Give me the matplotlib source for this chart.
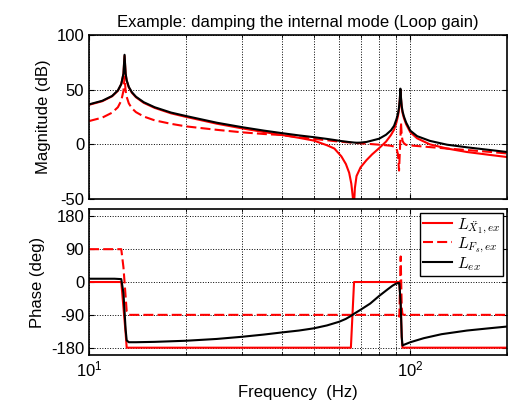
import matplotlib
matplotlib.use("Agg")
import matplotlib.pyplot as plt
import numpy as np

plt.rcParams['font.family'] = ['Liberation Sans', 'DejaVu Sans']
plt.rcParams['mathtext.fontset'] = 'cm'
plt.rcParams['axes.unicode_minus'] = False

# magnitude curves (Hz, dB)
f_mag = [10, 11, 11.8, 12.3, 12.6, 12.8, 12.9, 13.0, 13.1, 13.3, 13.6, 14.0, 14.8, 16, 18, 20,
         25, 30, 35, 40, 45, 50, 55, 58, 61, 63, 64.5, 65.5, 66.2, 66.6, 67.2, 68, 70, 73,
         76, 80, 84, 87, 89, 90.5, 91.5, 92.2, 92.7, 93.1, 93.5, 94, 94.6, 95.5, 97, 100,
         105, 115, 130, 150, 175, 200]
mag_x1 = [36.2, 39.5, 44, 49, 55, 64.5, 81, 64.3, 58.2, 52.1, 47.2, 43.1, 38, 33.4, 28.4, 25.2,
          18.9, 14.6, 11.3, 8.5, 6, 3.5, -0.8, -3.8, -11, -18, -26, -36, -48, -62, -40, -29, -21, -14.5,
          -9.2, -3.4, 2.5, 8.5, 13.5, 20, 26, 32, 40, 50, 42, 33.5, 28.5, 24, 18.5, 11,
          5.5, 0, -3.8, -7, -9.5, -11.6]
mag_fs = [21.3, 24.5, 29, 34, 40, 49, 62, 49, 43.5, 37.5, 33, 29.5, 25.5, 22, 18.8, 16.5,
          13.3, 11, 9.5, 8.5, 6.5, 5, 3.8, 3, 2.4, 2, 1.8, 1.6, 1.5, 1.4, 1.3, 1.2, 1.0, 0.6,
          0.2, -0.3, -0.8, -1.3, -2, -3.5, -9, -24, -8, 5, 20, 8, 3, 1, -0.5, -1,
          -1.5, -2.5, -3.8, -5.2, -6.8, -8.3]
mag_ex = [36.6, 39.9, 44.3, 49.4, 55.3, 64.8, 82, 64.8, 58.7, 52.6, 47.7, 43.6, 38.6, 34, 29.1, 26,
          19.8, 15.7, 12.6, 10.2, 8.2, 6.6, 5.0, 4.0, 3.0, 2.5, 2.1, 1.9, 1.8, 1.7, 1.6, 1.5, 1.6, 2.2,
          3.5, 5.2, 8.8, 12.8, 17, 23, 28, 34, 41, 51, 43, 35, 30, 25.5, 20, 12.5,
          7.5, 3.2, -0.3, -2.7, -5, -7]

# phase curves (Hz, deg)
f_ph = [10, 12, 12.6, 12.8, 13.0, 13.1, 13.3, 14, 16, 20, 25, 30, 35, 40, 45, 50, 55, 60, 63,
        65.3, 66.8, 70, 75, 80, 85, 88, 90, 91.5, 92.4, 93.3, 94, 94.5, 95.5, 100, 110, 125,
        150, 175, 200]
ph_x1 = [0, 0, 0, -70, -140, -180, -180, -180, -180, -180, -180, -180, -180, -180, -180, -180, -180, -180, -180,
         -180, 0, 0, 0, 0, 0, 0, 0, 0, 0, -60, -150, -180, -180, -180, -180, -180,
         -180, -180, -180]
ph_fs = [90, 90, 90, 40, -40, -80, -90, -90, -90, -90, -90, -90, -90, -90, -90, -90, -90, -90, -90,
         -90, -90, -90, -90, -90, -90, -90, -90, -90, -95, 70, -70, -88, -90, -90, -90, -90,
         -90, -90, -90]
ph_ex = [9, 9, 8, -30, -130, -160, -165, -165, -164, -161, -156, -150, -144, -138, -133, -127, -119, -109, -101,
         -93, -87, -76, -59, -38, -20, -10, -5, -3, -3, -60, -150, -174, -172, -165, -154, -143,
         -133, -127, -122]

labels = [r'$L_{\ddot{X}_1,ex}$', r'$L_{F_s,ex}$', r'$L_{ex}$']

fig = plt.figure(figsize=(5.13, 4.17), dpi=100)
ax1 = fig.add_axes([0.1735, 0.5228, 0.815, 0.393])
ax2 = fig.add_axes([0.1735, 0.1487, 0.815, 0.350], sharex=ax1)

ax1.plot(f_mag, mag_x1, 'r-', lw=1.5)
ax1.plot(f_mag, mag_fs, 'r--', lw=1.5, dashes=(4.8, 2.0))
ax1.plot(f_mag, mag_ex, 'k-', lw=1.5)

ax2.plot(f_ph, ph_x1, 'r-', lw=1.5, label=labels[0])
ax2.plot(f_ph, ph_fs, 'r--', lw=1.5, dashes=(4.8, 2.0), label=labels[1])
ax2.plot(f_ph, ph_ex, 'k-', lw=1.5, label=labels[2])

ax1.set_xscale('log')
ax1.set_xlim(10, 200)
ax1.set_ylim(-50, 100)
ax1.set_yticks([-50, 0, 50, 100])
ax2.set_ylim(-200, 200)
ax2.set_yticks([-180, -90, 0, 90, 180])

for ax in (ax1, ax2):
    ax.grid(True, which='major', color='k', ls=':', lw=0.7)
    ax.grid(True, which='minor', axis='x', color='k', ls=':', lw=0.7)
    ax.tick_params(which='both', direction='in', top=True, right=True, labelsize=12)
    for s in ax.spines.values():
        s.set_linewidth(1.2)
plt.setp(ax1.get_xticklabels(), visible=False)

ax1.set_title('Example: damping the internal mode (Loop gain)', fontsize=12)
ax1.set_ylabel('Magnitude (dB)', fontsize=12)
ax2.set_ylabel('Phase (deg)', fontsize=12)
ax2.set_xlabel('Frequency  (Hz)', fontsize=12)

leg = ax2.legend(loc='upper right', fontsize=11.5, fancybox=False, framealpha=1, edgecolor='k',
                 handlelength=1.8, borderpad=0.2, labelspacing=0.0, handletextpad=0.3, borderaxespad=0.25)
leg.get_frame().set_linewidth(1.0)

fig.savefig('out.png', dpi=100)
